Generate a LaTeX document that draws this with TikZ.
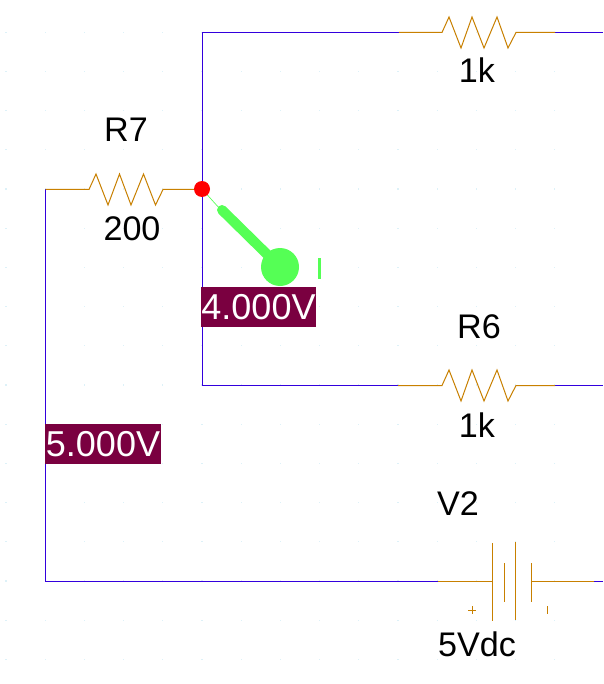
\documentclass[tikz,border=0pt]{standalone}
\usepackage{fontspec}
\setmainfont{Liberation Sans}
\definecolor{wire}{HTML}{3300DD}
\definecolor{part}{HTML}{C88000}
\definecolor{probe}{HTML}{55FF55}
\definecolor{flag}{HTML}{7A0040}
\definecolor{griddot}{HTML}{DDF1F8}
\tikzset{
  wireline/.style={draw=wire,line width=0.75pt},
  partline/.style={draw=part,line width=0.75pt},
  lbl/.style={anchor=base,inner sep=0pt,font=\fontsize{25.6}{28}\selectfont},
  flagbox/.style={fill=flag,text=white,inner sep=0pt,minimum width=86.5pt,minimum height=30pt,font=\fontsize{27}{28}\selectfont},
  dotjunction/.style={circle,fill=red,inner sep=0pt,minimum size=12pt}
}
\begin{document}
\begin{tikzpicture}[x=0.75pt,y=-0.75pt]
\useasboundingbox (0,0) rectangle (603,684);
\fill[white] (0,0) rectangle (603,684);
% faint grid
\foreach \i in {0,...,14}{\foreach \j in {0,...,16}{
  \fill[griddot] ({6+39.2*\i-0.6},{32.2+39.2*\j-0.6}) rectangle ++(1.2,1.2);
}}
% named points
\coordinate (topcorner) at (202.5,32.5);
\coordinate (r1a) at (399,32.5);
\coordinate (r1b) at (555,32.5);
\coordinate (r1end) at (603,32.5);
\coordinate (botcorner) at (202.5,385.5);
\coordinate (r6a) at (398,385.5);
\coordinate (r6b) at (555,385.5);
\coordinate (r6end) at (603,385.5);
\coordinate (r7a) at (45.5,189.5);
\coordinate (junc) at (202,189);
\coordinate (lowcorner) at (45.5,581.5);
\coordinate (v2a) at (438,581.5);
\coordinate (v2b) at (594,581.5);
\coordinate (v2end) at (603,581.5);
% wires
\draw[wireline] (r1a) -- (topcorner) -- (botcorner) -- (r6a);
\draw[wireline] (r1b) -- (r1end);
\draw[wireline] (r6b) -- (r6end);
\draw[wireline] (r7a) -- (lowcorner) -- (v2a);
\draw[wireline] (v2b) -- (v2end);
% resistors
\draw[partline] (r1a) -- (442,32.5) -- (449,17) -- (461,48) -- (472,17) -- (484,48) -- (497,17) -- (508,48) -- (516,32.5) -- (r1b);
\draw[partline] (r6a) -- (442,385.5) -- (449,370) -- (461,401) -- (472,370) -- (484,401) -- (497,370) -- (508,401) -- (516,385.5) -- (r6b);
\draw[partline] (r7a) -- (89,189.5) -- (96,174) -- (108,205) -- (119.5,174) -- (131,205) -- (143.5,174) -- (155.5,205) -- (163,189.5) -- (194,189.5);
% battery
\draw[partline] (v2a) -- (492.5,581.5);
\draw[partline] (492.5,543) -- (492.5,621);
\draw[partline] (504.5,563) -- (504.5,602);
\draw[partline] (515.5,542) -- (515.5,620);
\draw[partline] (531.5,563) -- (531.5,602);
\draw[partline] (531.5,581.5) -- (v2b);
\draw[partline] (468,610.5) -- (476,610.5) (472.5,606) -- (472.5,614);
\draw[partline] (547.5,606) -- (547.5,614);
% probe
\node[circle,fill=probe,inner sep=0pt,minimum size=28.5pt] (bulb) at (280,267) {};
\draw[probe,line width=0.5pt] (junc) -- (220,209);
\draw[probe,line width=7.5pt,line cap=round] (222,210) -- (bulb.center);
\draw[probe,line width=2.2pt] (319.5,258) -- (319.5,279);
\node[dotjunction] (jdot) at (junc) {};
% flags
\node[flagbox] (f4) at (258.5,307) {4.000V};
\node[flagbox] (f5) at (103,444) {5.000V};
% labels
\node[lbl] (r1val) at (477,83) {1k};
\node[lbl] (r7name) at (126,142) {R7};
\node[lbl] (r7val) at (132,240) {200};
\node[lbl] (r6name) at (479,338) {R6};
\node[lbl] (r6val) at (477,437) {1k};
\node[lbl] (v2name) at (458,515) {V2};
\node[lbl] (v2val) at (477,656) {5Vdc};
\end{tikzpicture}
\end{document}
